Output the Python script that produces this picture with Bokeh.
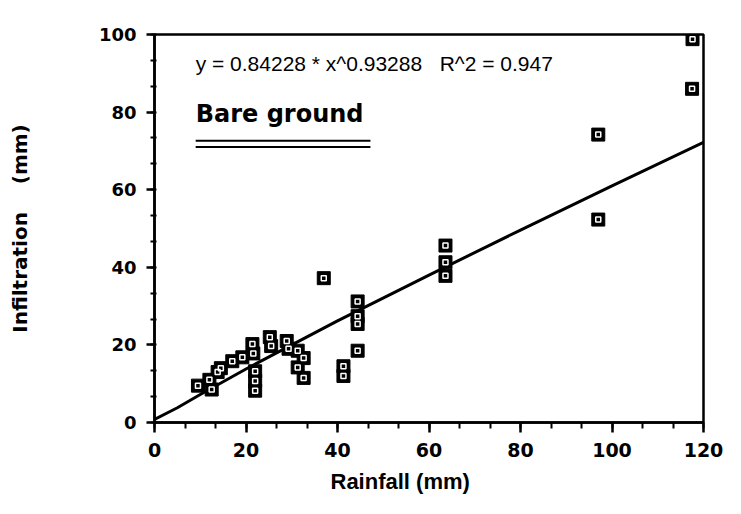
from bokeh.plotting import figure
from bokeh.models import Range1d, SingleIntervalTicker, Label, Title
from bokeh.embed import file_html
from bokeh.resources import INLINE

rainfall = [9.5, 12, 12.5, 13.8, 14.5, 17, 19.2, 21.4, 21.6, 22, 22, 22,
            25.2, 25.5, 28.9, 29.3, 31.3, 32.6, 31.3, 32.6, 37,
            41.3, 41.3, 44.4, 44.4, 44.4, 44.4, 63.6, 63.6, 63.6,
            97, 97, 117.5, 117.6]
infiltration = [9.5, 11, 8.5, 13, 14, 15.8, 16.8, 20.2, 17.8, 13.2, 10.7, 8.2,
                22, 19.7, 21, 19, 18.5, 16.6, 14.2, 11.5, 37.2,
                14.5, 12, 31.2, 27.4, 25.4, 18.5, 45.6, 41.3, 37.8,
                74.2, 52.3, 86, 98.8]

# Fitted curve (y = 0.84228 * x^0.93288)
fit_x = [0, 5, 10, 20, 40, 60, 80, 100, 120]
fit_y = [0.8, 3.8, 7.2, 13.8, 26.2, 38.0, 49.6, 61.0, 72.2]

NB = "\u00a0"
equation = "y = 0.84228 * x^0.93288" + NB * 3 + "R^2 = 0.947"
panel_title = "Bare ground"
x_title = "Rainfall (mm)"
y_title = "Infiltration" + NB * 4 + "(mm)"

p = figure(width=741, height=514, output_backend="svg", toolbar_location=None,
           x_range=Range1d(0, 120), y_range=Range1d(0, 100))
p.min_border_left = 154
p.min_border_right = 38
p.min_border_top = 34
p.min_border_bottom = 92
p.background_fill_color = "white"
p.border_fill_color = "white"
p.outline_line_color = "black"
p.outline_line_width = 2.5
p.grid.visible = False

p.xaxis.ticker = SingleIntervalTicker(interval=20, num_minor_ticks=3)
p.yaxis.ticker = SingleIntervalTicker(interval=20, num_minor_ticks=3)

for ax in (p.xaxis, p.yaxis):
    ax.axis_line_width = 2.5
    ax.axis_line_color = "black"
    ax.major_tick_line_width = 2.5
    ax.minor_tick_line_width = 2
    ax.major_tick_line_color = "black"
    ax.minor_tick_line_color = "black"
    ax.major_label_text_font = "DejaVu Sans"
    ax.major_label_text_font_style = "bold"
    ax.major_label_text_color = "black"

p.xaxis.major_label_text_font_size = "19px"
p.yaxis.major_label_text_font_size = "18px"

p.xaxis.major_tick_out = 10
p.xaxis.major_tick_in = 0
p.xaxis.minor_tick_out = 6
p.xaxis.minor_tick_in = 0
p.xaxis.major_label_standoff = 10

p.yaxis.major_tick_out = 8
p.yaxis.major_tick_in = 0
p.yaxis.minor_tick_out = 4
p.yaxis.minor_tick_in = 2
p.yaxis.major_label_standoff = 10

p.yaxis.axis_label = y_title
p.yaxis.axis_label_text_font = "DejaVu Sans"
p.yaxis.axis_label_text_font_style = "bold"
p.yaxis.axis_label_text_font_size = "20px"
p.yaxis.axis_label_text_color = "black"
p.yaxis.axis_label_standoff = 64

# fitted curve
p.line(fit_x, fit_y, line_color="black", line_width=3)

# data markers: black square with small white hollow centre
p.scatter(rainfall, infiltration, marker="square", size=13,
          fill_color="black", line_color="black")
p.scatter(rainfall, infiltration, marker="square", size=5,
          fill_color=None, line_color="white", line_width=1.5)

# annotations
p.add_layout(Label(x=9, y=92.6, text=equation, text_font="Liberation Sans",
                   text_font_size="21px", text_color="black",
                   text_baseline="middle"))
p.add_layout(Label(x=9, y=79.6, text=panel_title, text_font="DejaVu Sans",
                   text_font_style="bold", text_font_size="24px",
                   text_color="black", text_baseline="middle"))
p.segment(x0=[9, 9], y0=[72.6, 71.0], x1=[47.2, 47.2], y1=[72.6, 71.0],
          line_color="black", line_width=2)

p.add_layout(Title(text=x_title, text_font="Liberation Sans",
                   text_font_style="bold", text_font_size="22px",
                   text_color="black", align="left", offset=176,
                   standoff=15), "below")

open("out.html", "w").write(file_html(p, INLINE))
